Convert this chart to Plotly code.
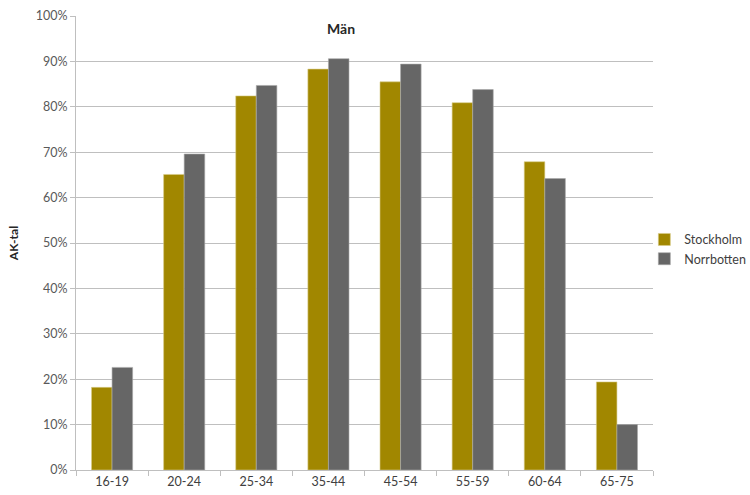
import plotly.graph_objects as go

# Age groups and AK-tal (share, %) per region
age_groups = ["16-19", "20-24", "25-34", "35-44", "45-54", "55-59", "60-64", "65-75"]
stockholm = [18.2, 65.1, 82.4, 88.3, 85.5, 80.9, 67.9, 19.4]
norrbotten = [22.6, 69.6, 84.7, 90.6, 89.4, 83.8, 64.2, 10.0]
y_ticks = [0, 10, 20, 30, 40, 50, 60, 70, 80, 90, 100]
y_tick_text = [f"{v}%" for v in y_ticks]

FONT = "Lato, 'Open Sans', sans-serif"
GOLD = "#A18700"
GREY = "#666666"
GRID = "#BFBFBF"

fig = go.Figure()
fig.add_trace(go.Bar(
    x=age_groups, y=stockholm, name="Stockholm",
    marker=dict(color=GOLD, line=dict(color="#D8CC8A", width=0.6)),
))
fig.add_trace(go.Bar(
    x=age_groups, y=norrbotten, name="Norrbotten",
    marker=dict(color=GREY, line=dict(color="#A8A8A8", width=0.6)),
))

fig.update_layout(
    width=750, height=495,
    margin=dict(l=76, r=97, t=16, b=25, autoexpand=False),
    paper_bgcolor="white", plot_bgcolor="white",
    barmode="group", bargap=0.43, bargroupgap=0,
    font=dict(family=FONT, size=12, color="#595959"),
    showlegend=True,
    legend=dict(
        x=0.985, xanchor="left", y=0.54, yanchor="top",
        font=dict(family=FONT, size=12.5, color="#404040"),
        itemwidth=30, tracegroupgap=6,
        bgcolor="rgba(0,0,0,0)",
    ),
    xaxis=dict(
        type="category",
        showline=True, linecolor=GRID, linewidth=1,
        ticks="outside", tickson="boundaries", ticklen=5, tickcolor=GRID,
        showgrid=False,
        tickfont=dict(family=FONT, size=12.5, color="#404040"),
    ),
    yaxis=dict(
        range=[0, 100], tickvals=y_ticks, ticktext=y_tick_text,
        showline=True, linecolor=GRID, linewidth=1,
        ticks="outside", ticklen=5, tickcolor=GRID,
        showgrid=True, gridcolor=GRID, gridwidth=1,
        zeroline=False,
        tickfont=dict(family=FONT, size=12.5, color="#595959"),
        title=dict(text="<b>AK-tal</b>", standoff=14,
                   font=dict(family=FONT, size=12, color="#262626")),
    ),
    annotations=[dict(
        text="<b>Män</b>", xref="paper", yref="paper",
        x=0.459, y=0.973, xanchor="center", yanchor="middle",
        showarrow=False, font=dict(family=FONT, size=14, color="#262626"),
    )],
)

fig.write_html("out.html")
